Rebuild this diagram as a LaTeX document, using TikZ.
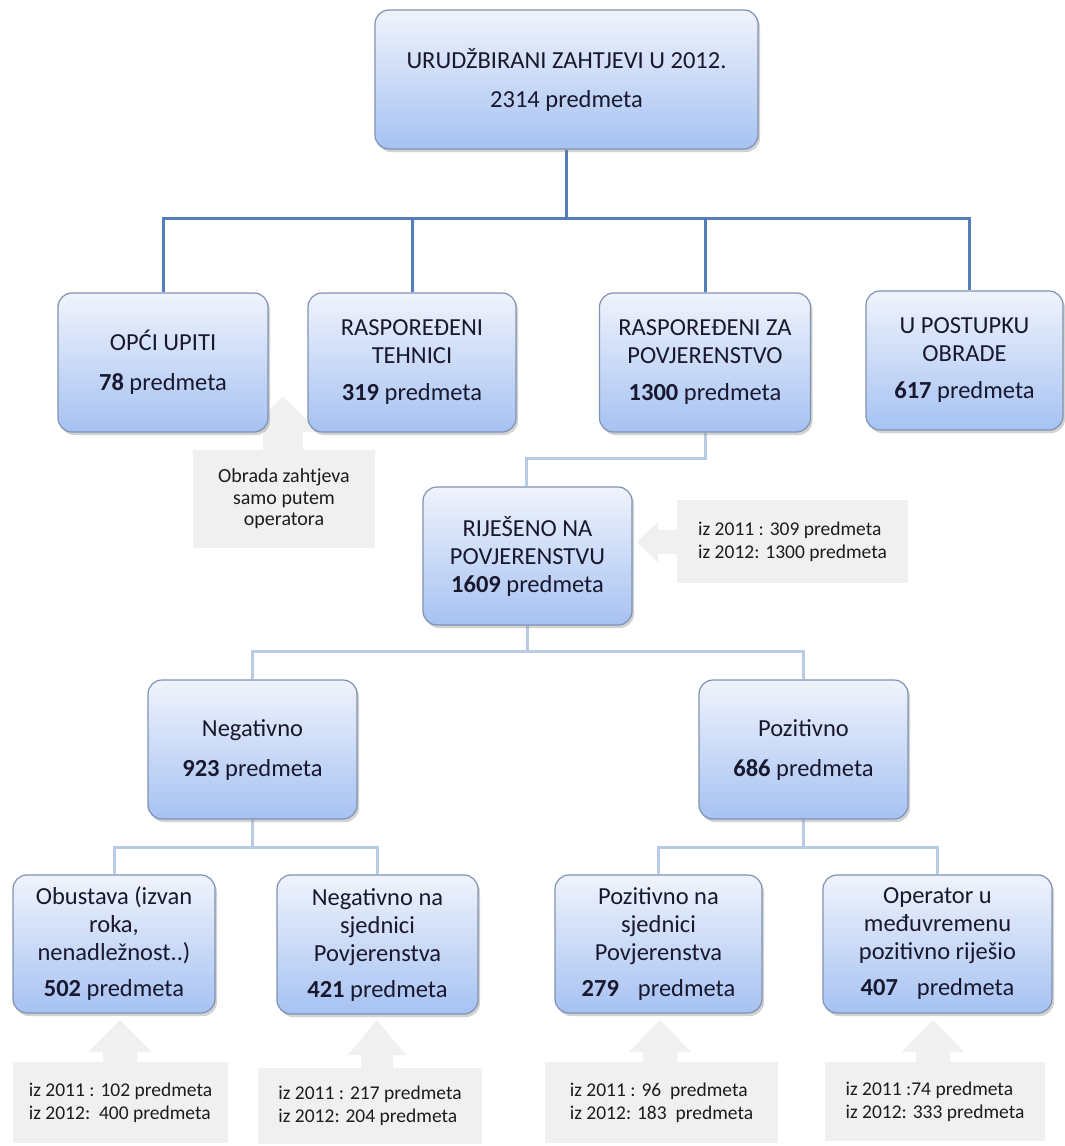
\documentclass[tikz,border=0pt]{standalone}
\usepackage{fontspec}
\setmainfont{Carlito}
\usetikzlibrary{shadows}
\pgfdeclarelayer{background}
\pgfsetlayers{background,main}
\definecolor{boxtop}{RGB}{240,243,252}
\definecolor{boxbot}{RGB}{166,194,242}
\definecolor{boxline}{RGB}{128,146,178}
\definecolor{boxtext}{RGB}{24,24,46}
\definecolor{busblue}{RGB}{84,126,186}
\definecolor{buslightc}{RGB}{185,202,228}
\definecolor{callgray}{RGB}{240,240,240}
\definecolor{calltextc}{RGB}{28,28,28}
\newcommand{\upcallout}[6]{%
  \fill[callgray] (#1,#2) -- ({#1+#3},#4) -- ({#1+#5},#4) -- ({#1+#5},{#6+1}) -- ({#1-#5},{#6+1}) -- ({#1-#5},#4) -- ({#1-#3},#4) -- cycle;}
\begin{document}
\begin{tikzpicture}[x=1pt,y=-1pt,
  orgbox/.style={draw=boxline, line width=1.2pt, rounded corners=14pt,
    top color=boxtop, bottom color=boxbot,
    drop shadow={shadow xshift=2pt, shadow yshift=-3pt, opacity=0.35},
    align=center, text=boxtext, font=\fontsize{24.5}{28}\selectfont, inner sep=0pt},
  busdark/.style={draw=busblue, line width=3pt, line join=miter},
  buslight/.style={draw=buslightc, line width=3pt, line join=miter},
  callbox/.style={fill=callgray, inner sep=0pt, align=left, text=calltextc,
    font=\fontsize{19.5}{23}\selectfont},
]
\begin{pgfonlayer}{background}
\fill[white] (0,0) rectangle (1065,1146);
\end{pgfonlayer}
\useasboundingbox (0,0) rectangle (1065,1146);

% boxes
\node[orgbox, minimum width=383pt, minimum height=139pt] (top) at (566.5,79.5)
  {URUDŽBIRANI ZAHTJEVI U 2012.\\[11pt]2314 predmeta};
\node[orgbox, minimum width=210pt, minimum height=139pt] (opci) at (163,362.5)
  {OPĆI UPITI\\[12pt]\textbf{78} predmeta};
\node[orgbox, minimum width=208pt, minimum height=139pt] (tehn) at (412,362.5)
  {RASPOREĐENI\\TEHNICI\\[9pt]\textbf{319} predmeta};
\node[orgbox, minimum width=211pt, minimum height=139pt] (zapov) at (705,362.5)
  {RASPOREĐENI ZA\\POVJERENSTVO\\[9pt]\textbf{1300} predmeta};
\node[orgbox, minimum width=197pt, minimum height=139pt] (upost) at (964.5,360.5)
  {U POSTUPKU\\OBRADE\\[9pt]\textbf{617} predmeta};
\node[orgbox, minimum width=209pt, minimum height=138pt] (rijes) at (527.5,556)
  {RIJEŠENO NA\\POVJERENSTVU\\\textbf{1609} predmeta};
\node[orgbox, minimum width=209pt, minimum height=139pt] (neg) at (252.5,749.5)
  {Negativno\\[12pt]\textbf{923} predmeta};
\node[orgbox, minimum width=209pt, minimum height=139pt] (poz) at (803.5,749.5)
  {Pozitivno\\[12pt]\textbf{686} predmeta};
\node[orgbox, minimum width=202pt, minimum height=138pt] (obust) at (114,944)
  {Obustava (izvan\\roka,\\nenadležnost..)\\[8pt]\textbf{502} predmeta};
\node[orgbox, minimum width=201pt, minimum height=139pt] (negna) at (377.5,944.5)
  {Negativno na\\sjednici\\Povjerenstva\\[8pt]\textbf{421} predmeta};
\node[orgbox, minimum width=207pt, minimum height=138pt] (pozna) at (658.5,944)
  {Pozitivno na\\sjednici\\Povjerenstva\\[8pt]\textbf{279}\hspace{0.55em} predmeta};
\node[orgbox, minimum width=229pt, minimum height=138pt] (oper) at (937.5,944)
  {Operator u\\međuvremenu\\pozitivno riješio\\[8pt]\textbf{407}\hspace{0.55em} predmeta};

% callouts
\node[callbox, minimum width=182pt, minimum height=98pt, align=center,
  font=\fontsize{20}{21.5}\selectfont] (cobr) at (284,499)
  {Obrada zahtjeva\\samo putem\\operatora};
\node[callbox, minimum width=231pt, minimum height=83pt] (crij) at (792.5,541.5)
  {iz 2011 : 309 predmeta\\iz 2012: 1300 predmeta};
\node[callbox, minimum width=215pt, minimum height=81pt] (c1) at (120.5,1102.5)
  {iz 2011 : 102 predmeta\\iz 2012:\ \ 400 predmeta};
\node[callbox, minimum width=224pt, minimum height=76pt] (c2) at (370,1106)
  {iz 2011 : 217 predmeta\\iz 2012: 204 predmeta};
\node[callbox, minimum width=233pt, minimum height=81pt] (c3) at (661.5,1102.5)
  {iz 2011 : 96\ \ predmeta\\iz 2012: 183\ \ predmeta};
\node[callbox, minimum width=220pt, minimum height=79pt] (c4) at (935,1101.5)
  {iz 2011 :74 predmeta\\iz 2012: 333 predmeta};

\begin{pgfonlayer}{background}
  \upcallout{283}{397}{37}{432}{20}{450}
  \upcallout{120}{1020}{32}{1052}{17}{1062}
  \upcallout{377}{1020}{29}{1055}{16}{1068}
  \upcallout{660}{1020}{31}{1052}{17}{1062}
  \upcallout{933}{1020}{31}{1052}{17}{1062}
  \fill[callgray] (637,542) -- (658,522) -- (658,530) -- (678,530) -- (678,554) -- (658,554) -- (658,562) -- cycle;
\end{pgfonlayer}

% connectors
\coordinate (bus1) at (0,218);
\coordinate (bus2) at (0,458);
\coordinate (bus3) at (0,651);
\coordinate (bus4) at (0,847);
\begin{pgfonlayer}{background}
\draw[busdark] (top.south) -- (top.south |- bus1);
\draw[busdark] (opci.north) -- (opci.north |- bus1) -- ([xshift=5pt]upost.north |- bus1) -- ([xshift=5pt]upost.north);
\draw[busdark] (tehn.north) -- (tehn.north |- bus1);
\draw[busdark] (zapov.north) -- (zapov.north |- bus1);
\draw[buslight] (zapov.south) -- (zapov.south |- bus2) -| ([xshift=-1pt]rijes.north);
\draw[buslight] (rijes.south) -- (rijes.south |- bus3);
\draw[buslight] (neg.north) -- (neg.north |- bus3) -- (poz.north |- bus3) -- (poz.north);
\draw[buslight] (neg.south) -- (neg.south |- bus4);
\draw[buslight] (obust.north) -- (obust.north |- bus4) -- (negna.north |- bus4) -- (negna.north);
\draw[buslight] (poz.south) -- (poz.south |- bus4);
\draw[buslight] (pozna.north) -- (pozna.north |- bus4) -- (oper.north |- bus4) -- (oper.north);
\end{pgfonlayer}
\end{tikzpicture}
\end{document}
